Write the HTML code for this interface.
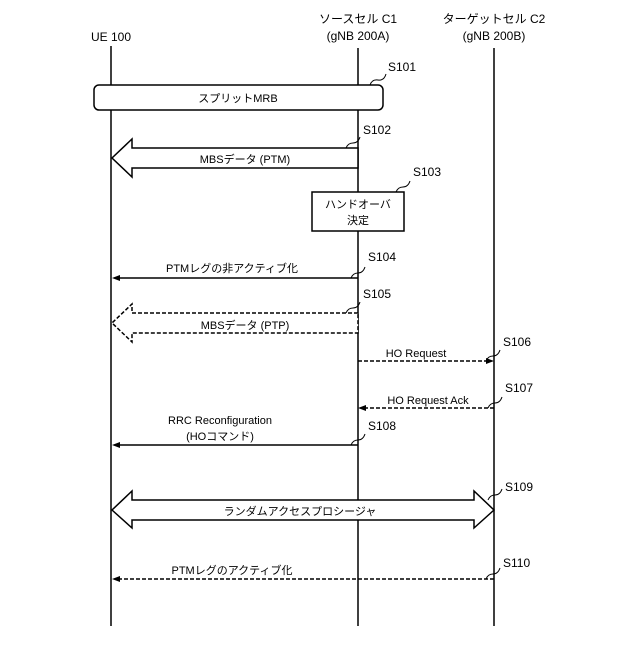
<!DOCTYPE html>
<html><head><meta charset="utf-8"><style>body{margin:0;background:#fff}</style></head><body>
<svg width="640" height="640" viewBox="0 0 640 640" xmlns="http://www.w3.org/2000/svg" font-family="'Liberation Sans','Noto Sans CJK JP',sans-serif" font-size="11" fill="#000">
<rect width="640" height="640" fill="#fff"/>
<g font-size="12" text-anchor="middle">
<text x="111" y="41">UE 100</text>
<text x="358" y="23">ソースセル C1</text>
<text x="358" y="40">(gNB 200A)</text>
<text x="494" y="23">ターゲットセル C2</text>
<text x="494" y="40">(gNB 200B)</text>
</g>
<g stroke="#000" stroke-width="1.5">
<line x1="111" y1="46" x2="111" y2="626"/>
<line x1="358" y1="48" x2="358" y2="626"/>
<line x1="494" y1="48" x2="494" y2="626"/>
</g>
<rect x="94" y="85" width="289" height="25" rx="5" fill="#fff" stroke="#000" stroke-width="1.5"/>
<text x="238" y="102" text-anchor="middle">スプリットMRB</text>
<polygon points="358,148 132,148 132,139 112,158 132,177 132,168 358,168" fill="#fff" stroke="#000" stroke-width="1.5"/>
<text x="245" y="163" text-anchor="middle">MBSデータ (PTM)</text>
<rect x="312" y="192" width="92" height="39" fill="#fff" stroke="#000" stroke-width="1.5"/>
<text x="358" y="208" text-anchor="middle">ハンドオーバ</text>
<text x="358" y="224" text-anchor="middle">決定</text>
<line x1="358" y1="278" x2="116" y2="278" stroke="#000" stroke-width="1.5"/>
<polygon points="112,278 120,275 120,281"/>
<text x="232" y="272" text-anchor="middle">PTMレグの非アクティブ化</text>
<polygon points="358,313 132,313 132,304 112,323 132,342 132,333 358,333" fill="#fff" stroke="#000" stroke-width="1.5" stroke-dasharray="4,2"/>
<text x="245" y="329" text-anchor="middle">MBSデータ (PTP)</text>
<line x1="358" y1="361" x2="488" y2="361" stroke="#000" stroke-width="1.5" stroke-dasharray="4,2"/>
<polygon points="494,361 486,358 486,364"/>
<text x="416" y="357" text-anchor="middle">HO Request</text>
<line x1="494" y1="408" x2="364" y2="408" stroke="#000" stroke-width="1.5" stroke-dasharray="4,2"/>
<polygon points="358,408 366,405 366,411"/>
<text x="428" y="404" text-anchor="middle">HO Request Ack</text>
<line x1="358" y1="445" x2="116" y2="445" stroke="#000" stroke-width="1.5"/>
<polygon points="112,445 120,442 120,448"/>
<text x="220" y="424" text-anchor="middle">RRC Reconfiguration</text>
<text x="220" y="440" text-anchor="middle">(HOコマンド)</text>
<polygon points="132,500 474,500 474,491 494,510 474,528 474,520 132,520 132,528 112,510 132,491" fill="#fff" stroke="#000" stroke-width="1.5"/>
<text x="300" y="515" text-anchor="middle">ランダムアクセスプロシージャ</text>
<line x1="494" y1="579" x2="116" y2="579" stroke="#000" stroke-width="1.5" stroke-dasharray="4,2"/>
<polygon points="112,579 120,576 120,582"/>
<text x="232" y="574" text-anchor="middle">PTMレグのアクティブ化</text>
<g font-size="12">
<text x="388" y="71">S101</text>
<text x="363" y="134">S102</text>
<text x="413" y="176">S103</text>
<text x="368" y="261">S104</text>
<text x="363" y="298">S105</text>
<text x="503" y="346">S106</text>
<text x="505" y="392">S107</text>
<text x="368" y="430">S108</text>
<text x="505" y="491">S109</text>
<text x="503" y="567">S110</text>
</g>
<g fill="none" stroke="#000" stroke-width="1">
<path d="M370,85 q2,-6 8,-5 q6,1 8,-6"/>
<path d="M346,148 q2,-5 7,-5 q5,0 7,-6"/>
<path d="M396,192 q2,-5 7,-5 q5,0 7,-6"/>
<path d="M351,278 q2,-5 7,-5 q5,0 7,-6"/>
<path d="M346,313 q2,-5 7,-5 q5,0 7,-6"/>
<path d="M486,361 q2,-5 7,-5 q5,0 7,-6"/>
<path d="M488,408 q2,-5 7,-5 q5,0 7,-6"/>
<path d="M351,445 q2,-5 7,-5 q5,0 7,-6"/>
<path d="M488,500 q2,-5 7,-5 q5,0 7,-6"/>
<path d="M486,579 q2,-5 7,-5 q5,0 7,-6"/>
</g>
</svg>
</body></html>
